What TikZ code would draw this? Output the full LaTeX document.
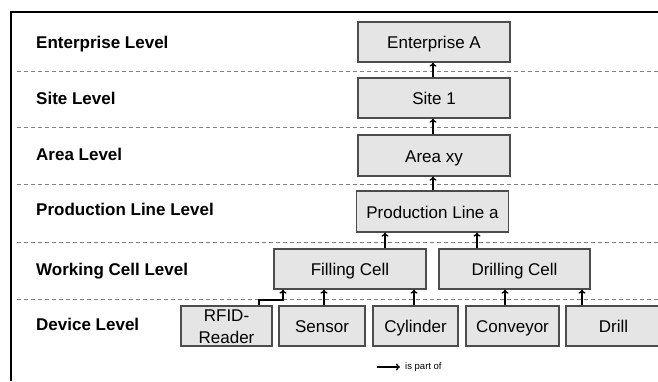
\documentclass[tikz,border=0pt]{standalone}
\usepackage{fontspec}
\setmainfont{Liberation Sans}
\usetikzlibrary{arrows.meta}
\begin{document}
\begin{tikzpicture}[x=1pt,y=-1pt,
  lvl/.style={anchor=west,inner sep=0pt,font=\fontsize{17}{20}\selectfont\bfseries,text height=12.5pt,text depth=3.5pt},
  mbox/.style={draw=black!70,fill=black!10,line width=1.2pt,inner sep=0pt,
    font=\fontsize{17}{22}\selectfont,align=center,minimum height=40pt},
  box/.style={mbox,text height=15pt,text depth=2pt},
  sep/.style={draw=black!50,line width=0.9pt,dash pattern=on 4pt off 3pt},
  arr/.style={draw=black,line width=1.4pt,-{To[length=4pt,width=7pt]}},
  frame/.style={draw=black,line width=2.2pt}]
\useasboundingbox (0,0) rectangle (658,381);
\fill[white] (0,0) rectangle (658,381);
% frame
\coordinate (fb) at (11,381);
\coordinate (fc) at (11,12);
\coordinate (fr) at (658,12);
\draw[frame] (fb) -- (fc) -- (fr);
% separators
\foreach \y/\n in {71/a,127/b,184/c,242/d,299/e}{
  \coordinate (s\n l) at (17,\y);
  \coordinate (s\n r) at (660,\y);
  \draw[sep] (s\n l) -- (s\n r);
}
% level labels
\node[lvl] (l1) at (36,44) {Enterprise Level};
\node[lvl] (l2) at (36,100) {Site Level};
\node[lvl] (l3) at (36,156) {Area Level};
\node[lvl] (l4) at (36,211) {Production Line Level};
\node[lvl] (l5) at (36,271) {Working Cell Level};
\node[lvl] (l6) at (36,326) {Device Level};
% boxes
\node[box,minimum width=152pt] (ent) at (434,42) {Enterprise A};
\node[box,minimum width=152pt] (site) at (434,98) {Site 1};
\node[box,minimum width=152pt,minimum height=41pt] (area) at (434,155.5) {Area xy};
\node[box,minimum width=152pt,minimum height=41pt] (prod) at (432.5,211.5) {Production Line a};
\node[box,minimum width=152pt] (fill) at (350,269) {Filling Cell};
\node[box,minimum width=151pt] (drill) at (514.5,269) {Drilling Cell};
\node[mbox,minimum width=91pt] (rfid) at (226.5,326) {\rule{0pt}{14pt}RFID-\\Reader};
\node[box,minimum width=86pt] (sens) at (322,326) {Sensor};
\node[box,minimum width=85pt] (cyl) at (415.5,326) {Cylinder};
\node[box,minimum width=93pt] (conv) at (512.5,326) {Conveyor};
\node[box,minimum width=95pt] (dr) at (613.5,326) {Drill};
% arrows
\coordinate (xa) at (433,0);
\coordinate (xf) at (385,0);
\coordinate (xd) at (477,0);
\coordinate (xr) at (259,0);
\coordinate (xr2) at (283,0);
\coordinate (xs) at (324,0);
\coordinate (xc) at (414,0);
\coordinate (xv) at (505,0);
\coordinate (xl) at (582,0);
\coordinate (yk) at (0,300);
\draw[arr] (site.north -| xa) -- (ent.south -| xa);
\draw[arr] (area.north -| xa) -- (site.south -| xa);
\draw[arr] (prod.north -| xa) -- (area.south -| xa);
\draw[arr] (fill.north -| xf) -- (prod.south -| xf);
\draw[arr] (drill.north -| xd) -- (prod.south -| xd);
\draw[arr] (rfid.north -| xr) -- (xr |- yk) -- (xr2 |- yk) -- (fill.south -| xr2);
\draw[arr] (sens.north -| xs) -- (fill.south -| xs);
\draw[arr] (cyl.north -| xc) -- (fill.south -| xc);
\draw[arr] (conv.north -| xv) -- (drill.south -| xv);
\draw[arr] (dr.north -| xl) -- (drill.south -| xl);
% legend
\coordinate (lg1) at (377,367);
\coordinate (lg2) at (400,367);
\node[anchor=west,inner sep=0pt,font=\fontsize{9.5}{11}\selectfont] (lgt) at (405,367) {is part of};
\draw[arr] (lg1) -- (lg2);
\end{tikzpicture}
\end{document}
